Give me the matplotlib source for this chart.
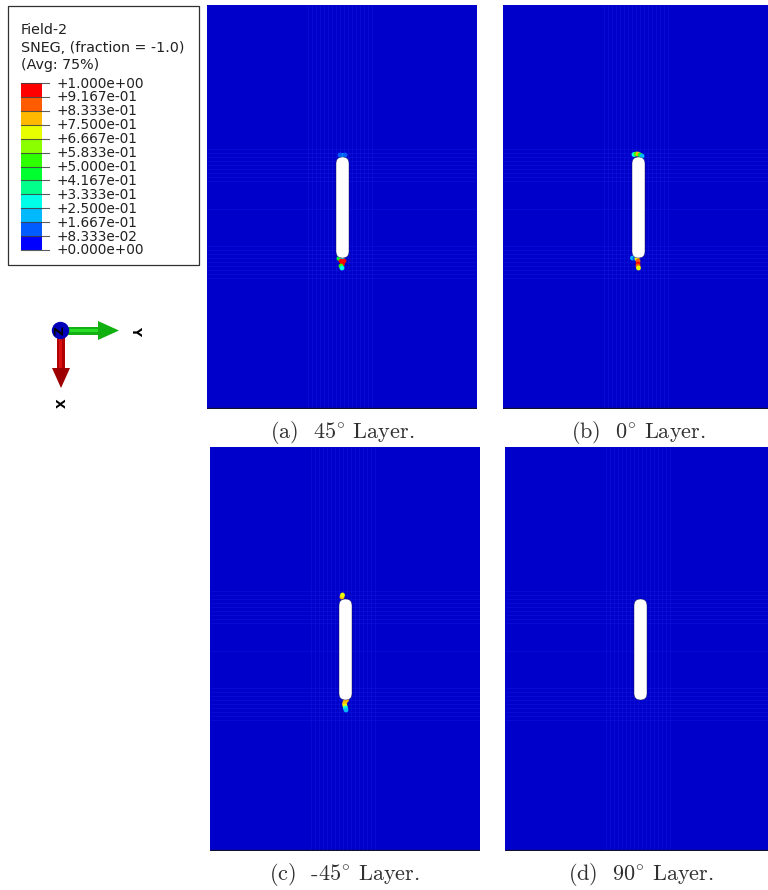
import matplotlib
matplotlib.use("Agg")
import matplotlib.pyplot as plt
import numpy as np
from matplotlib.patches import FancyBboxPatch, Rectangle, Polygon, Circle
from matplotlib.colors import ListedColormap

plt.rcParams['mathtext.fontset'] = 'cm'
plt.rcParams['axes.formatter.use_mathtext'] = True

W, H = 768, 890

# ---- data ----
legend_title = ["Field-2", "SNEG, (fraction = -1.0)", "(Avg: 75%)"]
level_labels = ["+1.000e+00", "+9.167e-01", "+8.333e-01", "+7.500e-01", "+6.667e-01",
                "+5.833e-01", "+5.000e-01", "+4.167e-01", "+3.333e-01", "+2.500e-01",
                "+1.667e-01", "+8.333e-02", "+0.000e+00"]
level_values = [1.0, 0.9167, 0.8333, 0.75, 0.6667, 0.5833, 0.5, 0.4167, 0.3333, 0.25,
                0.1667, 0.08333, 0.0]
band_colors = ["#0000ff", "#005cff", "#00b9ff", "#00ffe8", "#00ff8b", "#00ff2e",
               "#2eff00", "#8bff00", "#e8ff00", "#ffb900", "#ff5c00", "#ff0000"]
captions = ["(a)  45$^{\\circ}$ Layer.", "(b)  0$^{\\circ}$ Layer.",
            "(c)  -45$^{\\circ}$ Layer.", "(d)  90$^{\\circ}$ Layer."]

# damage patches near the slit tips: local x, local y, SNEG level
damage_a = [(136, 150.5, .17), (133, 150, .10), (138, 150, .10), (132, 253.5, .42), (135, 253.5, .33),
            (137, 256, 1.0), (134, 256, .95), (135.5, 259, 1.0), (134, 261, .5), (135, 263, .25)]
damage_b = [(131, 149.5, .25), (133, 149, .5), (135, 149, .75), (137, 150, .42), (139, 151, .17),
            (129.5, 253, .17), (132, 253.5, .10), (134, 253.5, .7), (135, 256, .9), (135, 259, 1.0),
            (135, 261, .85), (135.5, 263, .67)]
damage_c = [(132, 150, .8), (132.5, 148, .7), (136.5, 253, .75), (135, 255, .8), (134.5, 257, .78),
            (135, 259, .7), (135.5, 261, .3), (136, 263, .2)]
damage_d = []
damage_sets = [damage_a, damage_b, damage_c, damage_d]

# faint mesh lines of the blue field (local coordinates)
mesh_rows = [144, 148, 152, 156, 160, 164, 168, 172, 176, 204, 241, 245, 249, 253, 257,
             261, 265, 269, 273]
mesh_cols = [101, 105, 109, 113, 117, 121, 125, 129, 133, 137, 141, 145, 149, 153, 157, 161, 165]

# panel upper-left corners in figure pixels
panel_x = [207, 503, 210, 505]
panel_y = [5, 5, 447, 447]
caption_x = [342, 638, 344, 640.5]
caption_y = [432, 432, 874, 874]

fig = plt.figure(figsize=(W / 100, H / 100), dpi=100, facecolor="white")
ax = fig.add_axes([0, 0, 1, 1])
ax.set_xlim(0, W)
ax.set_ylim(H, 0)
ax.axis("off")

cmap = ListedColormap(band_colors)

for px, py, dmg, cap, cx, cy in zip(panel_x, panel_y, damage_sets, captions, caption_x, caption_y):
    pw, ph = 270, 404
    pa = fig.add_axes([px / W, 1 - (py + ph) / H, pw / W, ph / H])
    pa.set_xlim(0, pw)
    pa.set_ylim(ph, 0)
    pa.axis("off")
    pa.add_patch(Rectangle((0, 0), pw, ph, fc="#0000cb", ec="none", zorder=0))
    pa.hlines(mesh_rows, 0, pw, color="#3048ff", lw=0.8, alpha=0.14, zorder=1)
    pa.vlines(mesh_cols, 0, ph, color="#3048ff", lw=0.8, alpha=0.14, zorder=1)
    if dmg:
        d = np.array(dmg)
        pa.scatter(d[:, 0], d[:, 1], c=d[:, 2], s=12, marker="o", cmap=cmap, vmin=0, vmax=1,
                   linewidths=0, zorder=2)
    pa.add_patch(FancyBboxPatch((129, 152), 13, 101, boxstyle="round,pad=0,rounding_size=6.5",
                                fc="white", ec="#0a0a50", lw=0.3, zorder=3))
    pa.hlines(ph - 0.8, 0, pw, color="#101030", lw=1.0, zorder=4)
    ax.text(cx, cy, cap, family="cmr10", fontsize=16, color="#303030",
            ha="center", va="center")

# ---- legend box ----
ax.add_patch(Rectangle((7.5, 5.5), 191, 259, fc="white", ec="#303030", lw=0.9, zorder=1))
for s, y in zip(legend_title, [30, 48, 65]):
    ax.text(21, y, s, fontsize=10.3, family="DejaVu Sans", color="#202020", va="center", ha="left", zorder=3)

ytop, ybot = 83, 250
ys = np.linspace(ytop, ybot, len(level_values))
for lab, y in zip(level_labels, ys):
    ax.text(57, y + 0.5, lab, fontsize=9.8, family="DejaVu Sans", color="#202020", va="center", ha="left", zorder=3)
    ax.plot([21, 49], [y, y], color="#404040", lw=0.8, alpha=0.85, zorder=3)
bands = np.arange(12)[:, None]
ax.pcolormesh([21, 42], ys[::-1], bands, cmap=cmap, vmin=-0.5, vmax=11.5, zorder=2, shading="flat")
ax.set_xlim(0, W)
ax.set_ylim(H, 0)

# ---- orientation triad ----
ax.add_patch(Rectangle((68, 326.5), 31, 8, fc="#12b012", ec="none", zorder=3))
ax.add_patch(Rectangle((68, 328.5), 31, 3, fc="#28dc28", ec="none", zorder=3))
ax.add_patch(Polygon([(98, 321), (119, 330.5), (98, 340)], fc="#10b010", ec="none", zorder=3))
ax.add_patch(Rectangle((57, 338), 8, 31, fc="#b00000", ec="none", zorder=3))
ax.add_patch(Rectangle((59, 338), 3, 31, fc="#d81010", ec="none", zorder=3))
ax.add_patch(Polygon([(52, 368), (70, 368), (61, 388)], fc="#9c0000", ec="none", zorder=3))
ax.add_patch(Circle((60.5, 330.5), 8.7, fc="#0000b8", ec="none", zorder=4))
ax.text(60.5, 330.5, "Z", rotation=90, fontsize=9, fontweight="bold", family="DejaVu Sans",
        ha="center", va="center", color="black", zorder=5)
ax.text(136, 330, "Y", rotation=-90, fontsize=9, fontweight="bold", family="DejaVu Sans",
        ha="center", va="center", color="black")
ax.text(62.5, 403, "X", rotation=90, fontsize=9, fontweight="bold", family="DejaVu Sans",
        ha="center", va="center", color="black")

fig.savefig("out.png", dpi=100, facecolor="white")
